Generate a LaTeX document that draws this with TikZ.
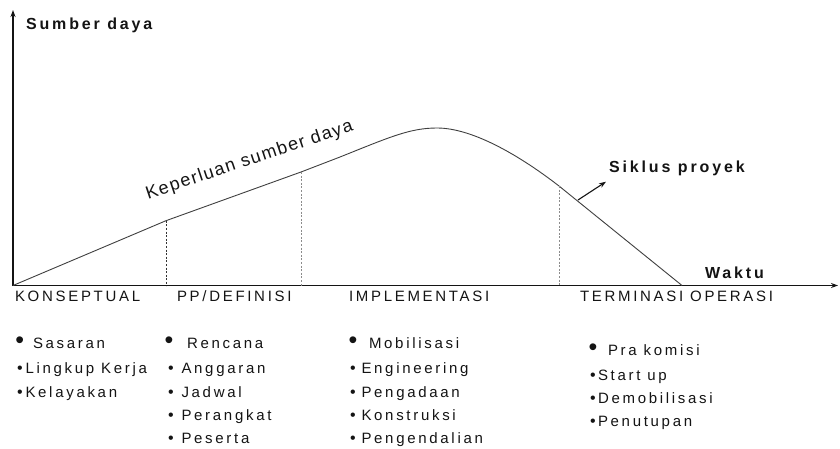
\documentclass[tikz,border=0pt]{standalone}
\usepackage{fontspec}
\setmainfont{Liberation Sans}[LetterSpace=18]
\newfontfamily\slopefont{Liberation Sans}[LetterSpace=8]
\usetikzlibrary{arrows.meta}

\newcommand{\bigdot}[1]{{\fontsize{25}{25}\selectfont\textbullet}\hspace{#1}}
\newcommand{\smalldot}[1]{{\fontsize{16}{18}\selectfont\textbullet}\hspace{#1}}

\begin{document}
\begin{tikzpicture}[x=1pt,y=1pt,
  lbl/.style={text=drawColor,anchor=base west,inner sep=0pt,outer sep=0pt,font=\fontsize{15}{18}\selectfont},
  ttl/.style={lbl,font=\fontsize{16}{19}\selectfont\bfseries},
  axis/.style={draw=drawColor,line width=1.2pt,-{Stealth[length=7pt,width=5pt]}},
  curve/.style={draw=curveColor,line width=0.9pt,line join=round},
  guide/.style={line width=0.8pt,dash pattern=on 2pt off 1.6pt}]
\definecolor[named]{fillColor}{rgb}{1.00,1.00,1.00}
\definecolor[named]{drawColor}{rgb}{0.08,0.08,0.08}
\definecolor[named]{curveColor}{rgb}{0.25,0.25,0.25}
\definecolor[named]{dashDark}{rgb}{0.20,0.20,0.20}
\definecolor[named]{dashLight}{rgb}{0.55,0.55,0.55}
\path[use as bounding box,fill=fillColor] (0,0) rectangle (840,448);

% axes
\coordinate (origin) at ( 13.00,162.50);
\coordinate (yTop) at ( 13.00,438.00);
\coordinate (xEnd) at (838.00,162.50);
\draw[axis] (origin) -- (yTop);
\draw[axis] (origin) -- (xEnd);

\node[ttl] (sumberDaya) at ( 26.00,418.70) {Sumber daya};
\node[ttl] (waktu) at (705.00,169.70) {Waktu};

% resource curve
\coordinate (dashTopA) at (166.00,227.30);
\coordinate (dashTopB) at (301.00,276.00);
\coordinate (dashTopC) at (559.00,262.00);
\coordinate (dashBotA) at (166.00,162.50);
\coordinate (dashBotB) at (301.00,162.50);
\coordinate (dashBotC) at (559.00,162.50);
\coordinate (curveEnd) at (682.00,162.50);

\draw[curve] (origin) -- (dashTopA) -- (dashTopB) -- (340.00,291.00)
	.. controls (390.00,311.00) and (410.00,320.00) .. (437.00,320.00)
	.. controls (470.00,320.00) and (515.00,296.00) .. (dashTopC) -- (curveEnd);

\draw[guide,draw=dashDark] (dashTopA) -- (dashBotA);
\draw[guide,draw=dashLight] (dashTopB) -- (dashBotB);
\draw[guide,draw=dashLight] (dashTopC) -- (dashBotC);

\node[lbl,rotate= 18.50,font=\slopefont\fontsize{18}{21}\selectfont] (keperluan) at (148.00,248.50) {Keperluan sumber daya};

% project cycle pointer
\coordinate (siklusFoot) at (578.00,248.00);
\coordinate (siklusTip) at (606.00,266.30);
\draw[axis,line width=1.1pt] (siklusFoot) -- (siklusTip);
\node[ttl] (siklus) at (609.00,275.30) {Siklus proyek};

% phases
\node[lbl] (konseptual) at ( 15.00,146.30) {KONSEPTUAL};
\node[lbl] (definisi) at (177.00,146.30) {PP/DEFINISI};
\node[lbl] (implementasi) at (349.00,146.30) {IMPLEMENTASI};
\node[lbl] (terminasi) at (580.00,146.30) {TERMINASI OPERASI};

% activities
\node[lbl] (k1) at ( 15.50,100.00) {\bigdot{8.75pt}Sasaran};
\node[lbl] (k2) at ( 17.00, 74.50) {\smalldot{2.9pt}Lingkup Kerja};
\node[lbl] (k3) at ( 17.00, 51.00) {\smalldot{2.9pt}Kelayakan};

\node[lbl] (d1) at (164.50,100.00) {\bigdot{13.75pt}Rencana};
\node[lbl] (d2) at (168.00, 74.50) {\smalldot{7.9pt}Anggaran};
\node[lbl] (d3) at (168.00, 51.00) {\smalldot{7.9pt}Jadwal};
\node[lbl] (d4) at (168.00, 27.50) {\smalldot{7.9pt}Perangkat};
\node[lbl] (d5) at (168.00,  4.50) {\smalldot{7.9pt}Peserta};

\node[lbl] (i1) at (348.50,100.00) {\bigdot{11.75pt}Mobilisasi};
\node[lbl] (i2) at (350.00, 74.50) {\smalldot{5.9pt}Engineering};
\node[lbl] (i3) at (350.00, 51.00) {\smalldot{5.9pt}Pengadaan};
\node[lbl] (i4) at (350.00, 27.50) {\smalldot{5.9pt}Konstruksi};
\node[lbl] (i5) at (350.00,  4.50) {\smalldot{5.9pt}Pengendalian};

\node[lbl] (t1) at (588.50, 93.00) {\bigdot{10.75pt}Pra komisi};
\node[lbl] (t2) at (590.00, 68.00) {\smalldot{2.4pt}Start up};
\node[lbl] (t3) at (590.00, 44.70) {\smalldot{2.4pt}Demobilisasi};
\node[lbl] (t4) at (590.00, 21.30) {\smalldot{2.4pt}Penutupan};
\end{tikzpicture}
\end{document}
